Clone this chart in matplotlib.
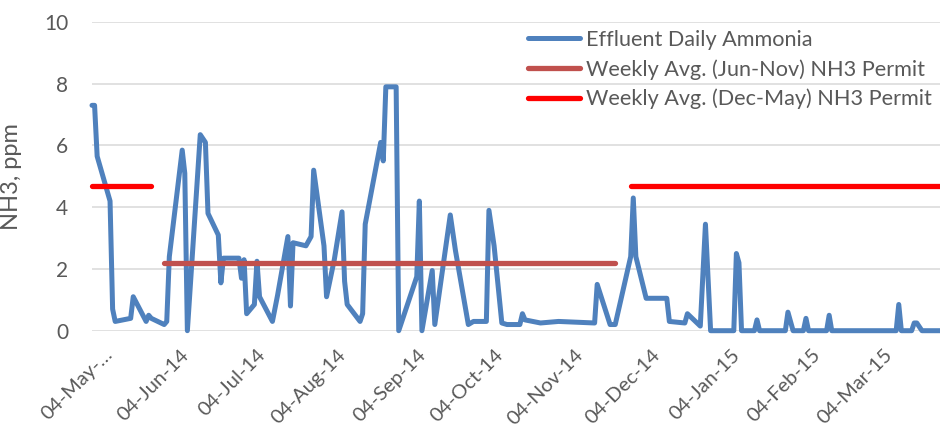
import numpy as np
import pandas as pd
import matplotlib
matplotlib.use('Agg')
import matplotlib.pyplot as plt
import matplotlib.transforms as mtransforms

plt.rcParams['font.family'] = ['Lato', 'DejaVu Sans']

# start of the record; x values are days after this date
start = pd.Timestamp('2014-05-04')

# effluent daily ammonia (days after start, ppm)
eff_days = [0, 1, 2, 7, 8, 9, 15, 16, 21, 22, 23, 28, 29, 30, 35, 36, 37, 42, 44, 45,
            49, 50, 51, 57, 58, 59, 60, 63, 64, 65, 70, 72, 76, 77, 78, 83, 85, 86, 90, 91,
            94, 97, 98, 99, 104, 105, 106, 112, 113, 114, 118, 119, 126, 127, 128, 132, 133,
            139, 141, 146, 148, 153, 154, 156, 159, 161, 166, 167, 168, 174, 181, 195, 196,
            201, 203, 209, 210, 211, 215, 223, 224, 230, 231, 236, 238, 240, 249, 250, 251,
            252, 257, 258, 259, 269, 270, 272, 276, 277, 278, 285, 286, 287, 312, 313, 314,
            318, 319, 320, 322, 329]
eff_vals = [7.3, 7.3, 5.65, 4.2, 0.7, 0.3, 0.4, 1.1, 0.3, 0.5, 0.4, 0.2, 0.3, 2.4, 5.85, 5.1, 0, 6.35, 6.1, 3.8,
            3.1, 1.55, 2.35, 2.35, 1.7, 2.3, 0.55, 0.85, 2.25, 1.1, 0.3, 1.15, 3.05, 0.8, 2.85, 2.75, 3.05, 5.2, 2.75, 1.1,
            2.3, 3.85, 1.6, 0.85, 0.3, 0.55, 3.45, 6.1, 5.5, 7.9, 7.9, 0, 1.75, 4.2, 0, 1.95, 0.2,
            3.75, 2.6, 0.2, 0.3, 0.3, 3.9, 2.75, 0.25, 0.2, 0.2, 0.55, 0.35, 0.25, 0.3, 0.25, 1.5,
            0.2, 0.2, 2.4, 4.3, 2.4, 1.05, 1.05, 0.3, 0.25, 0.55, 0.15, 3.45, 0, 0, 2.5, 2.2,
            0, 0, 0.35, 0, 0, 0.6, 0, 0, 0.4, 0, 0, 0.5, 0, 0, 0.85, 0,
            0, 0.25, 0.25, 0, 0]

# weekly average permits
jun_nov_days = [28, 203]
jun_nov_val = 2.2
dec_may_days_a = [0, 23]
dec_may_days_b = [209, 329]
dec_may_val = 4.7

tick_labels = ['04-May-\u2026', '04-Jun-14', '04-Jul-14', '04-Aug-14', '04-Sep-14', '04-Oct-14',
               '04-Nov-14', '04-Dec-14', '04-Jan-15', '04-Feb-15', '04-Mar-15']

to_dates = lambda d: start + pd.to_timedelta(d, unit='D')

fig = plt.figure(figsize=(9.4, 4.32), dpi=100)
ax = fig.add_axes([92 / 940, 101.3 / 432, 1 - 92 / 940, 308.7 / 432])

blue = '#4F81BD'
brown = '#C0504D'
red = '#FF0000'
grey = '#595959'

ax.plot(to_dates(eff_days), eff_vals, color=blue, lw=3.6, solid_joinstyle='round',
        solid_capstyle='round', clip_on=False, label='Effluent Daily Ammonia', zorder=3)
ax.plot(to_dates(jun_nov_days), [jun_nov_val] * 2, color=brown, lw=3.8,
        solid_capstyle='round', clip_on=False, label='Weekly Avg. (Jun-Nov) NH3 Permit', zorder=4)
ax.plot(to_dates(dec_may_days_a), [dec_may_val] * 2, color=red, lw=3.8,
        solid_capstyle='round', clip_on=False, label='Weekly Avg. (Dec-May) NH3 Permit', zorder=4)
ax.plot(to_dates(dec_may_days_b), [dec_may_val] * 2, color=red, lw=3.8,
        solid_capstyle='round', clip_on=False, zorder=4)

ax.set_xlim(start, to_dates(329))
ax.set_ylim(0, 10)
ax.set_yticks(np.arange(0, 11, 2))
ax.grid(axis='y', color='#D9D9D9', lw=1.1, zorder=0)
for s in ax.spines.values():
    s.set_visible(False)

ticks = [start + pd.DateOffset(months=i) for i in range(len(tick_labels))]
ax.set_xticks(ticks)
ax.set_xticklabels(tick_labels, rotation=45, ha='right', rotation_mode='anchor',
                   fontsize=14.5, color=grey)
ax.tick_params(axis='both', length=0, labelcolor=grey)
ax.tick_params(axis='y', pad=17, labelsize=15)
ax.tick_params(axis='x', pad=11)

# Excel sets the labels a little right of the tick; the clipped first one more so
for i, lab in enumerate(ax.get_xticklabels()):
    dx = 12 if i == 0 else 8
    lab.set_transform(lab.get_transform() + mtransforms.ScaledTranslation(dx / 100, 0, fig.dpi_scale_trans))

ax.set_ylabel('NH3, ppm', fontsize=17, color=grey)
ax.yaxis.set_label_coords(-0.083, 0.5)

leg = fig.legend(loc='upper left', bbox_to_anchor=(528 / 940, 1 - 30 / 432), frameon=False,
                 fontsize=15.6, handlelength=2.4, handletextpad=0.3, labelspacing=0.42,
                 borderpad=0, borderaxespad=0)
for t in leg.get_texts():
    t.set_color(grey)

fig.savefig('out.png', dpi=100)
